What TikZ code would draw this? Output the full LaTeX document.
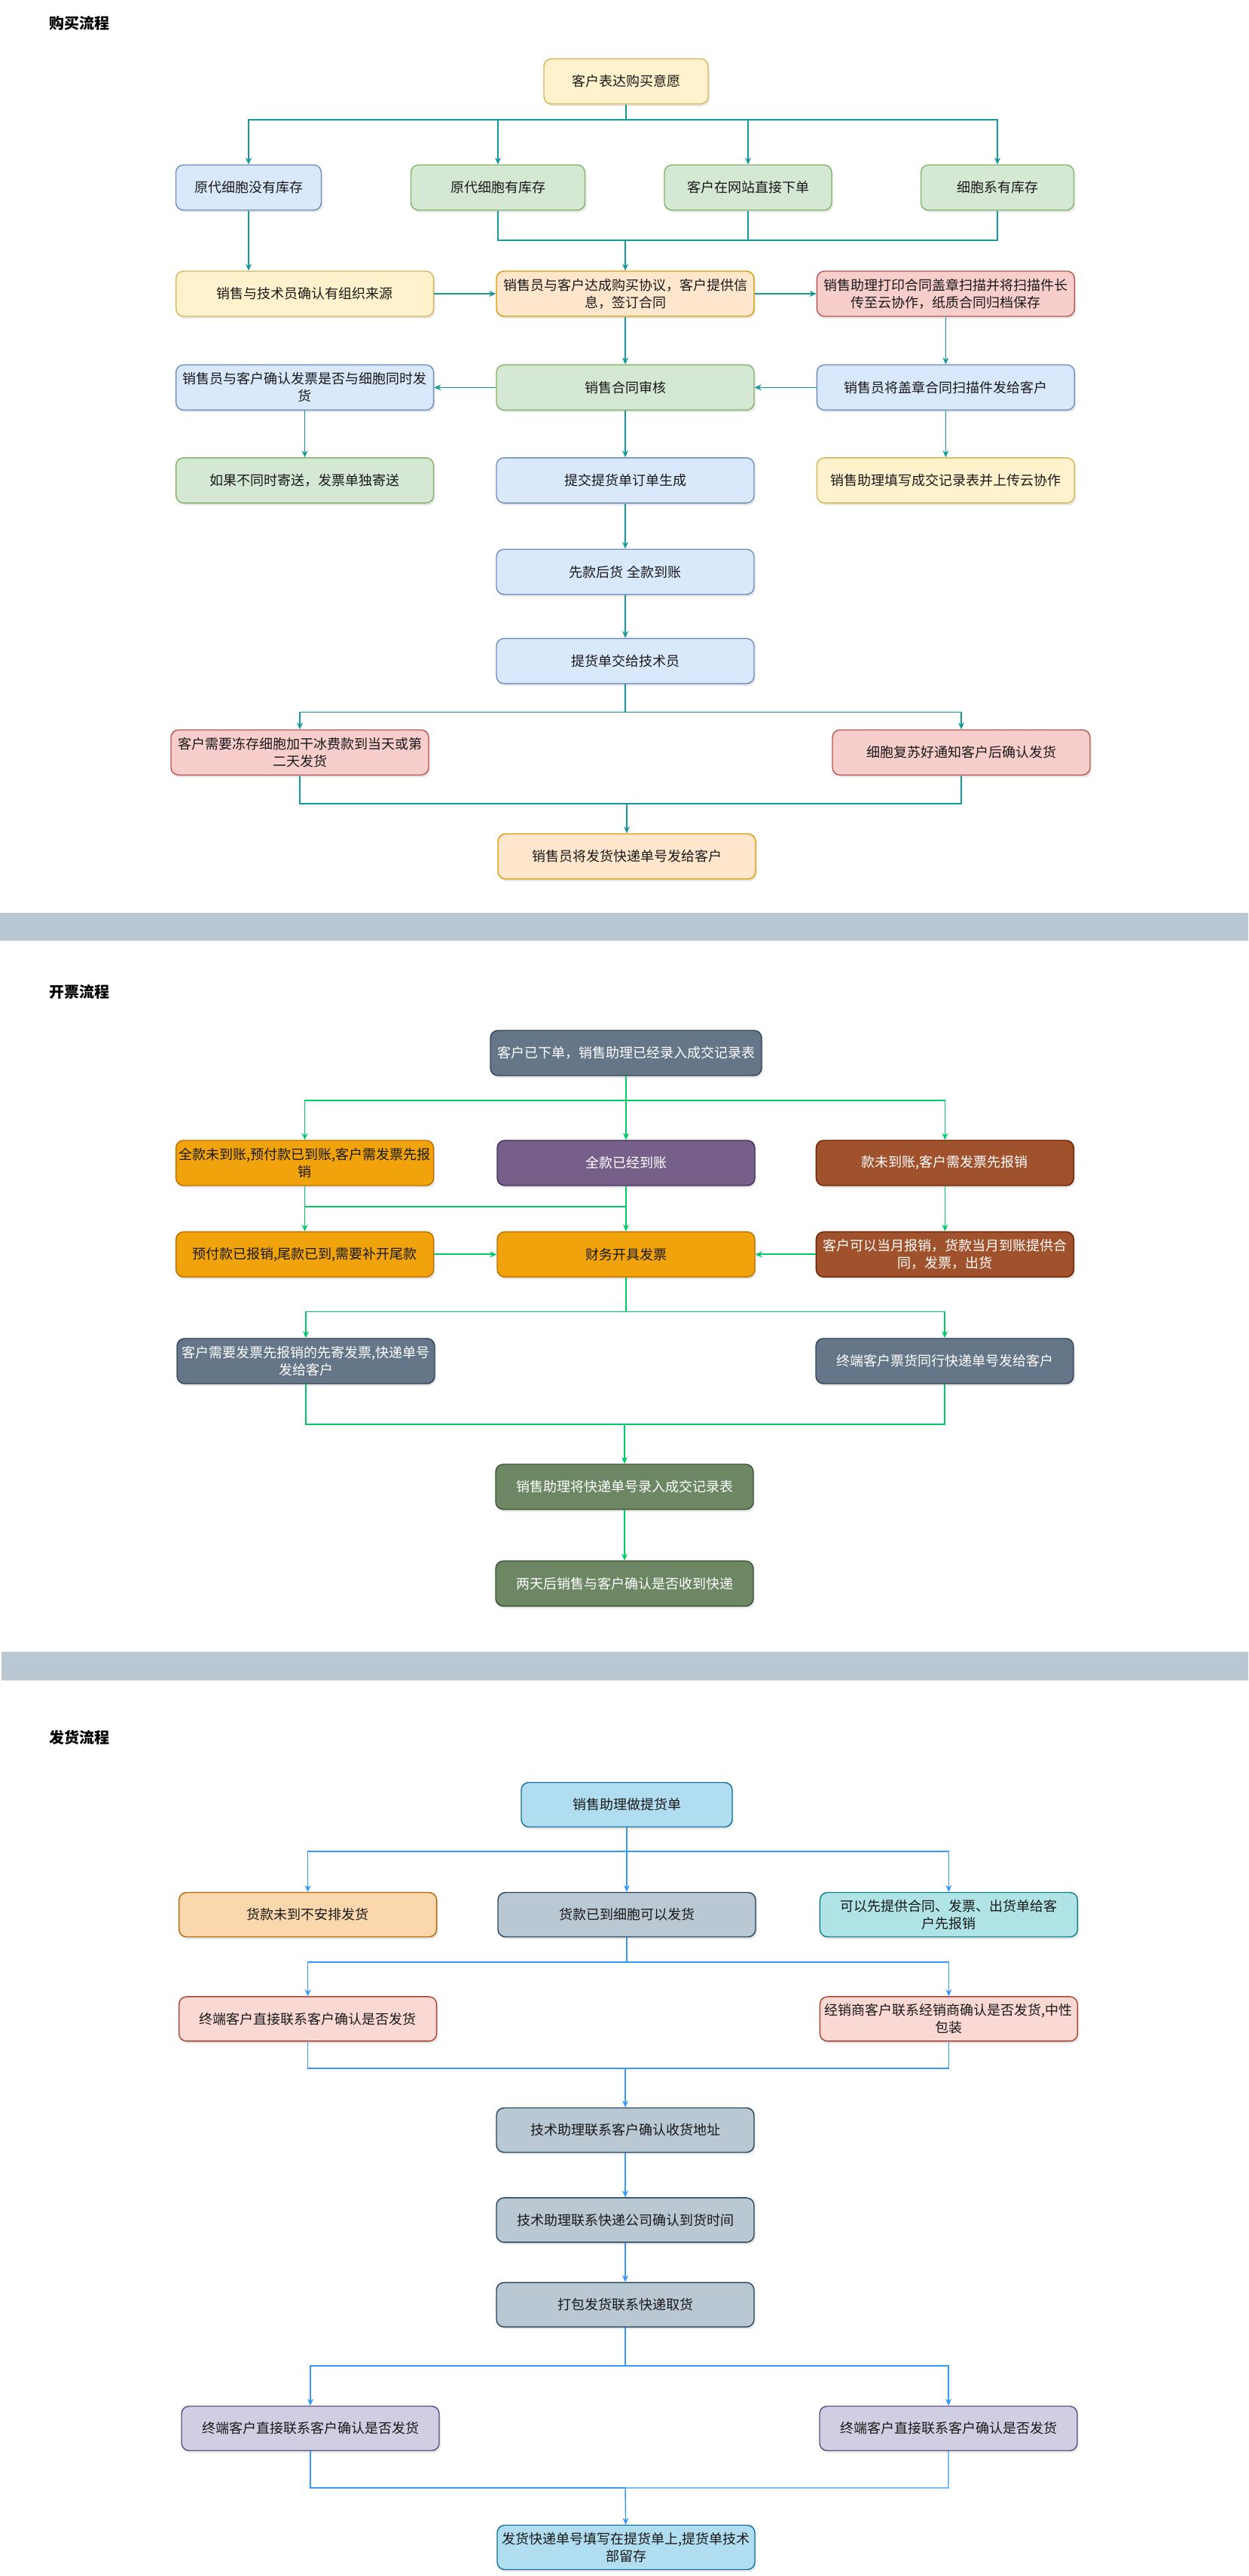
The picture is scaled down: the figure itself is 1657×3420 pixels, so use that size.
\documentclass[tikz,border=0pt]{standalone}
\usepackage{fontspec}
\setmainfont{Noto Sans CJK SC}
\usepackage{xcolor}
\usepackage{tikz}
\usetikzlibrary{arrows.meta,positioning,shadows}
\definecolor{yelF}{HTML}{FFF2CC}\definecolor{yelD}{HTML}{D6B656}
\definecolor{bluF}{HTML}{DAE8FC}\definecolor{bluD}{HTML}{6C8EBF}
\definecolor{grnF}{HTML}{D5E8D4}\definecolor{grnD}{HTML}{82B366}
\definecolor{orgF}{HTML}{FFE6CC}\definecolor{orgD}{HTML}{D79B00}
\definecolor{redF}{HTML}{F8CECC}\definecolor{redD}{HTML}{B85450}
\definecolor{sltF}{HTML}{647687}\definecolor{sltD}{HTML}{314354}
\definecolor{purF}{HTML}{76608A}\definecolor{purD}{HTML}{432D57}
\definecolor{ambF}{HTML}{F0A30A}\definecolor{ambD}{HTML}{BD7000}
\definecolor{brnF}{HTML}{A0522D}\definecolor{brnD}{HTML}{6D1F00}
\definecolor{olvF}{HTML}{6D8764}\definecolor{olvD}{HTML}{3A5431}
\definecolor{lblF}{HTML}{B1DDF0}\definecolor{lblD}{HTML}{10739E}
\definecolor{tanF}{HTML}{FAD7AC}\definecolor{tanD}{HTML}{B46504}
\definecolor{gryF}{HTML}{BAC8D3}\definecolor{gryD}{HTML}{23445D}
\definecolor{cynF}{HTML}{B0E3E6}\definecolor{cynD}{HTML}{0E8088}
\definecolor{pnkF}{HTML}{FAD9D5}\definecolor{pnkD}{HTML}{AE4132}
\definecolor{lavF}{HTML}{D0CEE2}\definecolor{lavD}{HTML}{56517E}
\definecolor{tealA}{HTML}{14999B}
\definecolor{grnA}{HTML}{00CC66}
\definecolor{bluA}{HTML}{3399FF}
\definecolor{bandC}{HTML}{BAC8D3}

\begin{document}
\begin{tikzpicture}[x=1pt,y=-1pt,font=\fontsize{18}{23}\selectfont,>={Stealth[length=9pt,width=8pt]},
  bx/.style={draw,rounded corners=10pt,line width=1.4pt,minimum width=342pt,minimum height=60pt,align=center,inner sep=3pt,text=black!90,
    drop shadow={shadow xshift=2pt,shadow yshift=-3pt,opacity=0.18}},
  ttl/.style={font=\fontsize{20}{24}\selectfont\bfseries,anchor=west,inner sep=0pt},
  yel/.style={bx,fill=yelF,draw=yelD}, blu/.style={bx,fill=bluF,draw=bluD},
  grn/.style={bx,fill=grnF,draw=grnD}, org/.style={bx,fill=orgF,draw=orgD},
  red/.style={bx,fill=redF,draw=redD},
  slt/.style={bx,fill=sltF,draw=sltD,text=white}, pur/.style={bx,fill=purF,draw=purD,text=white},
  amb/.style={bx,fill=ambF,draw=ambD}, brn/.style={bx,fill=brnF,draw=brnD,text=white},
  olv/.style={bx,fill=olvF,draw=olvD,text=white},
  lbl/.style={bx,fill=lblF,draw=lblD,minimum height=59pt}, tan/.style={bx,fill=tanF,draw=tanD,minimum height=59pt},
  gry/.style={bx,fill=gryF,draw=gryD,minimum height=59pt}, cyn/.style={bx,fill=cynF,draw=cynD,minimum height=59pt},
  pnk/.style={bx,fill=pnkF,draw=pnkD,minimum height=59pt}, lav/.style={bx,fill=lavF,draw=lavD,minimum height=59pt},
  a1/.style={->,draw=tealA,line width=1.4pt}, l1/.style={draw=tealA,line width=1.4pt},
  a2/.style={->,draw=grnA,line width=1.4pt}, l2/.style={draw=grnA,line width=1.4pt},
  a3/.style={->,draw=bluA,line width=1.4pt}, l3/.style={draw=bluA,line width=1.4pt}]
  \useasboundingbox (0,0) rectangle (1657,3420);
  \fill[bandC] (0,1212) rectangle (1657,1249);
  \fill[bandC] (2,2193) rectangle (1657,2231);

  \node[ttl] (t1) at (65,31) {购买流程};
  \node[yel,minimum width=218pt] (want) at (831,108) {客户表达购买意愿};
  \node[blu,minimum width=193pt] (nostock) at (330,249) {原代细胞没有库存};
  \node[grn,minimum width=231pt] (primstock) at (661,249) {原代细胞有库存};
  \node[grn,minimum width=222pt] (web) at (993,249) {客户在网站直接下单};
  \node[grn,minimum width=203pt] (lines) at (1324,249) {细胞系有库存};
  \node[org] (agree) at (830,390) {销售员与客户达成购买协议，客户提供信\\息，签订合同};
  \node[yel,left=82pt of agree] (verify) {销售与技术员确认有组织来源};
  \node[red,right=82pt of agree] (print) {销售助理打印合同盖章扫描并将扫描件长\\传至云协作，纸质合同归档保存};
  \node[grn,below=63pt of agree] (review) {销售合同审核};
  \node[blu,left=82pt of review] (ask) {销售员与客户确认发票是否与细胞同时发\\货};
  \node[blu,right=82pt of review] (send) {销售员将盖章合同扫描件发给客户};
  \node[blu,below=62pt of review] (submit) {提交提货单订单生成};
  \node[grn,left=82pt of submit] (apart) {如果不同时寄送，发票单独寄送};
  \node[yel,right=82pt of submit] (record) {销售助理填写成交记录表并上传云协作};
  \node[blu,below=60pt of submit] (prepay) {先款后货 全款到账};
  \node[blu,below=57pt of prepay] (handover) {提货单交给技术员};
  \node[red] (freeze) at (398,999) {客户需要冻存细胞加干冰费款到当天或第\\二天发货};
  \node[red] (revive) at (1276,999) {细胞复苏好通知客户后确认发货};
  \node[org] (notify) at (832,1137) {销售员将发货快递单号发给客户};
  \coordinate (j1) at (830,319);
  \coordinate (j2) at (832,1067);
  \draw[a1] (want) -- ++(0,51) -| (nostock);
  \draw[a1] (want) -- ++(0,51) -| (primstock);
  \draw[a1] (want) -- ++(0,51) -| (web);
  \draw[a1] (want) -- ++(0,51) -| (lines);
  \draw[l1] (primstock) |- (j1); \draw[l1] (lines) |- (j1);
  \draw[a1] (web) |- (j1) -- (agree);
  \draw[a1] (nostock) -- (nostock |- verify.north);
  \draw[a1,line width=2pt] (verify) -- (agree); \draw[a1,line width=2pt] (agree) -- (print);
  \draw[a1] (agree) -- (review); \draw[a1] (print) -- (send);
  \draw[a1] (review) -- (ask); \draw[a1] (send) -- (review);
  \draw[a1] (ask) -- (apart); \draw[a1] (review) -- (submit); \draw[a1] (send) -- (record);
  \draw[a1] (submit) -- (prepay); \draw[a1] (prepay) -- (handover);
  \draw[a1] (handover) -- ++(0,68) -| (freeze);
  \draw[a1] (handover) -- ++(0,68) -| (revive);
  \draw[l1] (freeze) |- (j2);
  \draw[a1] (revive) |- (j2) -- (notify);

  \node[ttl] (t2) at (65,1317) {开票流程};
  \node[slt,minimum width=360pt] (order) at (831,1398) {客户已下单，销售助理已经录入成交记录表};
  \node[pur] (paid) at (831,1544) {全款已经到账};
  \node[amb,left=83pt of paid] (part) {全款未到账,预付款已到账,客户需发票先报\\销};
  \node[brn,right=80pt of paid] (unpaid) {款未到账,客户需发票先报销};
  \node[amb,below=60pt of paid] (bill) {财务开具发票};
  \node[amb,left=83pt of bill] (rest) {预付款已报销,尾款已到,需要补开尾款};
  \node[brn,right=80pt of bill] (month) {客户可以当月报销，货款当月到账提供合\\同，发票，出货};
  \node[slt] (first) at (406,1807) {客户需要发票先报销的先寄发票,快递单号\\发给客户};
  \node[slt] (along) at (1254,1807) {终端客户票货同行快递单号发给客户};
  \node[olv] (enter) at (829,1974) {销售助理将快递单号录入成交记录表};
  \node[olv,below=67pt of enter] (check) {两天后销售与客户确认是否收到快递};
  \coordinate (j3) at (831,1602);
  \coordinate (j4) at (829,1891);
  \draw[a2] (order) -- ++(0,63) -| (part);
  \draw[a2] (order) -- (paid);
  \draw[a2] (order) -- ++(0,63) -| (unpaid);
  \draw[a2] (part) -- (rest); \draw[l2] (part) |- (j3);
  \draw[a2] (paid) -- (bill); \draw[a2] (unpaid) -- (month);
  \draw[a2,line width=2pt] (rest) -- (bill); \draw[a2,line width=2pt] (month) -- (bill);
  \draw[a2] (bill) -- ++(0,76) -| (first);
  \draw[a2] (bill) -- ++(0,76) -| (along);
  \draw[l2] (first) |- (j4);
  \draw[a2] (along) |- (j4) -- (enter);
  \draw[a2] (enter) -- (check);

  \node[ttl] (t3) at (65,2307) {发货流程};
  \node[lbl,minimum width=280pt] (slip) at (832,2396) {销售助理做提货单};
  \node[gry] (ready) at (832,2542) {货款已到细胞可以发货};
  \node[tan,left=80pt of ready] (hold) {货款未到不安排发货};
  \node[cyn,right=84pt of ready] (advance) {可以先提供合同、发票、出货单给客\\户先报销};
  \node[pnk,below=78pt of hold] (direct) {终端客户直接联系客户确认是否发货};
  \node[pnk,below=78pt of advance] (dealer) {经销商客户联系经销商确认是否发货,中性\\包装};
  \node[gry] (addr) at (830,2828) {技术助理联系客户确认收货地址};
  \node[gry,below=59pt of addr] (courier) {技术助理联系快递公司确认到货时间};
  \node[gry,below=52pt of courier] (pack) {打包发货联系快递取货};
  \node[lav] (endl) at (412,3224) {终端客户直接联系客户确认是否发货};
  \node[lav] (endr) at (1259,3224) {终端客户直接联系客户确认是否发货};
  \node[lbl] (fill) at (831,3382) {发货快递单号填写在提货单上,提货单技术\\部留存};
  \coordinate (j5) at (830,2746);
  \coordinate (j6) at (830,3303);
  \draw[a3] (slip) -- ++(0,62) -| (hold);
  \draw[a3] (slip) -- (ready);
  \draw[a3] (slip) -- ++(0,62) -| (advance);
  \draw[a3] (ready) -- ++(0,63) -| (direct);
  \draw[a3] (ready) -- ++(0,63) -| (dealer);
  \draw[l3] (direct) |- (j5);
  \draw[a3] (dealer) |- (j5) -- (addr);
  \draw[a3] (addr) -- (courier); \draw[a3] (courier) -- (pack);
  \draw[a3] (pack) -- ++(0,81) -| (endl);
  \draw[a3] (pack) -- ++(0,81) -| (endr);
  \draw[l3] (endl) |- (j6);
  \draw[a3] (endr) |- (j6) -- (fill);
\end{tikzpicture}
\end{document}
